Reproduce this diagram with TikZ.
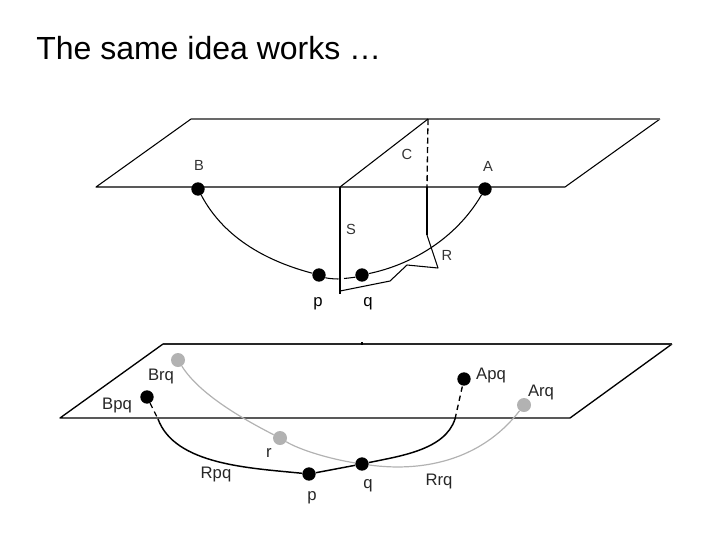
\documentclass[tikz,border=0pt]{standalone}
\usepackage{fontspec}
\setmainfont{Liberation Sans}
\pgfdeclarelayer{back}
\pgfsetlayers{back,main}
\definecolor{dotgray}{RGB}{178,178,178}
\definecolor{planegray}{RGB}{105,105,105}
\definecolor{planedark}{RGB}{40,40,40}
\tikzset{
  dotblack/.style={circle,fill=black,inner sep=0pt,minimum size=10pt},
  dotlight/.style={circle,fill=dotgray,inner sep=0pt,minimum size=10.5pt},
  lab/.style={inner sep=0pt,font=\fontsize{12.5pt}{14pt}\selectfont,text=black!85},
  labsmall/.style={inner sep=0pt,font=\fontsize{11pt}{13pt}\selectfont,text=black!80},
  labbold/.style={inner sep=0pt,font=\fontsize{12.5pt}{14pt}\selectfont,text=black},
  edge/.style={line width=0.8pt,line join=round},
  grayedge/.style={line width=0.9pt,draw=dotgray,line join=round},
  toprim/.style={line width=1.3pt,draw=planegray},
  lowrim/.style={line width=1.2pt,draw=planedark}
}
\begin{document}
\begin{tikzpicture}[x=0.75pt,y=-0.75pt]
\useasboundingbox (0,0) rectangle (720,540);
\node[anchor=west,inner sep=0pt,font=\fontsize{24pt}{28pt}\selectfont] (title) at (36,48) {The same idea works …};
% top plane
\coordinate (t1) at (96,187);
\coordinate (t2) at (191,119);
\coordinate (t3) at (660,119);
\coordinate (t4) at (565,187);
\coordinate (s0) at (340,187);
\coordinate (s1) at (340,294);
\coordinate (c0) at (428,119);
\coordinate (c1) at (427,187);
\coordinate (c2) at (427,235);
\coordinate (r1) at (438,268);
\coordinate (r2) at (407,265);
\coordinate (r3) at (390,281);
\coordinate (r4) at (340,291);
\coordinate (gapL) at (338.5,279);
\coordinate (gapR) at (344,278.5);
\node[dotblack] (B) at (198,189) {};
\node[dotblack] (A) at (485,189) {};
\node[dotblack] (P) at (319,275) {};
\node[dotblack] (Q) at (362,275) {};
\draw[edge] (t2) -- (t1) -- (t4) -- (t3);
\draw[toprim] (t2) -- (t3);
\draw[edge] (s0) -- (c0);
\draw[edge,line width=1pt] (s0) -- (s1);
\draw[edge,line width=1pt,dash pattern=on 4.5pt off 2.5pt] (c0) -- (c1);
\draw[edge,line width=1pt] (c1) -- (c2);
\draw[edge] (c2) -- (r1) -- (r2) -- (r3) -- (r4);
\draw[edge] (B) .. controls (225,240) and (270,262) .. (P);
\draw[edge] (P) .. controls (326,278) and (332,279) .. (gapL);
\draw[edge] (gapR) .. controls (350,278) and (356,277) .. (Q);
\draw[edge] (Q) .. controls (410,265) and (455,240) .. (A);
\node[labsmall] (lB) at (199,165) {B};
\node[labsmall] (lA) at (488,166) {A};
\node[labsmall] (lC) at (407,154) {C};
\node[labsmall] (lS) at (351,229) {S};
\node[labsmall] (lR) at (447,255) {R};
\node[labbold] (lp) at (318,304) {p};
\node[labbold] (lq) at (368,304) {q};
% lower plane
\coordinate (b1) at (60,418);
\coordinate (b2) at (163,344);
\coordinate (b3) at (672,344);
\coordinate (b4) at (570,418);
\coordinate (tickA) at (362,342);
\coordinate (tickB) at (362,345);
\coordinate (pqL) at (158,419);
\coordinate (pqR) at (455,419);
\node[dotblack] (Bpq) at (147,397) {};
\node[dotblack] (Apq) at (464,379) {};
\node[dotlight] (Brq) at (178,360) {};
\node[dotlight] (Arq) at (524,405) {};
\node[dotlight] (r) at (280,438) {};
\node[dotblack] (p) at (309,474) {};
\node[dotblack] (q) at (362,464) {};
\begin{pgfonlayer}{back}
\draw[edge,line width=1pt] (b2) -- (b1) -- (b4) -- (b3);
\draw[lowrim] (b2) -- (b3);
\draw[edge] (tickA) -- (tickB);
\draw[grayedge] (Brq) .. controls (200,395) and (245,420) .. (r);
\draw[grayedge] (r) .. controls (300,450) and (330,459) .. (q);
\draw[grayedge] (q) .. controls (420,472) and (480,462) .. (Arq);
\end{pgfonlayer}
\draw[edge,line width=1.1pt] (pqL) .. controls (175,465) and (250,468) .. (p);
\draw[edge,line width=1.1pt] (p) -- (q);
\draw[edge,line width=1.1pt] (q) .. controls (400,456) and (445,450) .. (pqR);
\draw[edge,line width=1pt,dash pattern=on 4pt off 3pt] (Bpq) -- (pqL);
\draw[edge,line width=1pt,dash pattern=on 4pt off 3pt] (pqR) -- (Apq);
\node[lab] (lBrq) at (161,376) {Brq};
\node[lab] (lBpq) at (117,405) {Bpq};
\node[lab] (lRpq) at (216,474) {Rpq};
\node[lab] (lr) at (269,453) {r};
\node[lab] (lp2) at (312,498) {p};
\node[lab] (lq2) at (368,486) {q};
\node[lab] (lRrq) at (439,481) {Rrq};
\node[lab] (lApq) at (491,375) {Apq};
\node[lab] (lArq) at (541,392) {Arq};
\end{tikzpicture}
\end{document}
